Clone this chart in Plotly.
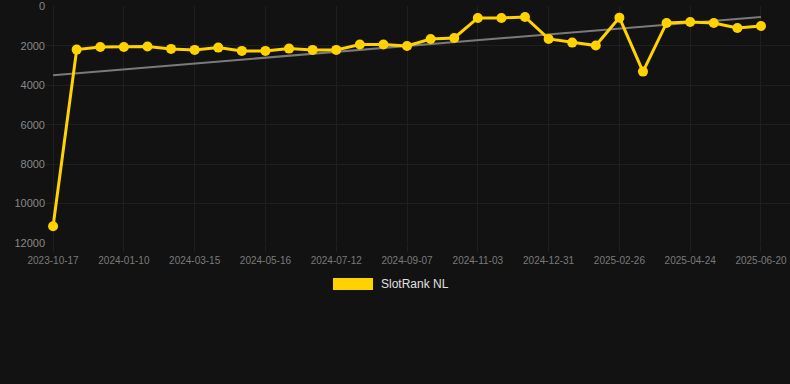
import plotly.graph_objects as go

dates = [
    "2023-10-17", "2023-11-14", "2023-12-12", "2024-01-10", "2024-01-31", "2024-02-22",
    "2024-03-15", "2024-04-04", "2024-04-25", "2024-05-16", "2024-06-04", "2024-06-23",
    "2024-07-12", "2024-07-31", "2024-08-19", "2024-09-07", "2024-09-26", "2024-10-15",
    "2024-11-03", "2024-11-22", "2024-12-12", "2024-12-31", "2025-01-19", "2025-02-07",
    "2025-02-26", "2025-03-17", "2025-04-05", "2025-04-24", "2025-05-13", "2025-06-01",
    "2025-06-20",
]
rank_nl = [
    11150, 2195, 2060, 2060, 2040, 2160, 2210, 2095, 2260, 2260,
    2145, 2210, 2210, 1940, 1940, 2010, 1655, 1605, 590, 590,
    540, 1655, 1840, 1990, 575, 3310, 845, 795, 845, 1100, 995,
]
trend_dates = ["2023-10-17", "2025-06-20"]
trend_values = [3490, 540]
tick_labels = [
    "2023-10-17", "2024-01-10", "2024-03-15", "2024-05-16", "2024-07-12", "2024-09-07",
    "2024-11-03", "2024-12-31", "2025-02-26", "2025-04-24", "2025-06-20",
]
y_ticks = [0, 2000, 4000, 6000, 8000, 10000, 12000]
y_tick_text = ["0", "2000", "4000", "6000", "8000", "10000", "12000"]
series_name = "SlotRank NL"

BG = "#121212"
GRID = "#1f1f1f"
YELLOW = "#FFD200"
FONT = "Arial, Liberation Sans, sans-serif"

fig = go.Figure()
fig.add_trace(go.Scatter(
    x=trend_dates, y=trend_values, mode="lines",
    line=dict(color="#7a7a7a", width=2), showlegend=False, hoverinfo="skip",
))
fig.add_trace(go.Scatter(
    x=dates, y=rank_nl, mode="lines+markers", name=series_name,
    line=dict(color=YELLOW, width=3), marker=dict(color=YELLOW, size=10),
    showlegend=False,
))

fig.update_layout(
    width=790, height=384,
    margin=dict(l=46, r=0, t=6, b=141),
    paper_bgcolor=BG, plot_bgcolor=BG,
    font=dict(family=FONT, color="#888888"),
    xaxis=dict(
        type="category", categoryorder="array", categoryarray=dates,
        range=[-0.3, 31.23],
        tickmode="array", tickvals=tick_labels, ticktext=tick_labels,
        tickfont=dict(size=10, color="#7a7a7a"),
        showgrid=True, gridcolor=GRID, gridwidth=1,
        ticks="outside", ticklen=8, tickcolor=GRID,
        zeroline=False, showline=False,
    ),
    yaxis=dict(
        range=[12000, -15], tickmode="array", tickvals=y_ticks, ticktext=y_tick_text,
        tickfont=dict(size=11, color="#888888"),
        showgrid=True, gridcolor=GRID, gridwidth=1,
        zeroline=False, showline=False, ticks="",
    ),
    shapes=[dict(
        type="rect", xref="paper", yref="paper",
        x0=(333 - 46) / 744, x1=(373 - 46) / 744,
        y0=(243 - 290) / 237, y1=(243 - 278) / 237,
        fillcolor=YELLOW, line=dict(width=0),
    )],
    annotations=[dict(
        text=series_name, xref="paper", yref="paper",
        x=(379 - 46) / 744, y=(243 - 284) / 237,
        xanchor="left", yanchor="middle", showarrow=False,
        font=dict(family=FONT, size=12, color="#e0e0e0"),
    )],
)

fig.write_html(
    "out.html",
    config={"displayModeBar": False},
    post_script="document.body.style.margin='0';document.body.style.background='#121212';",
)
